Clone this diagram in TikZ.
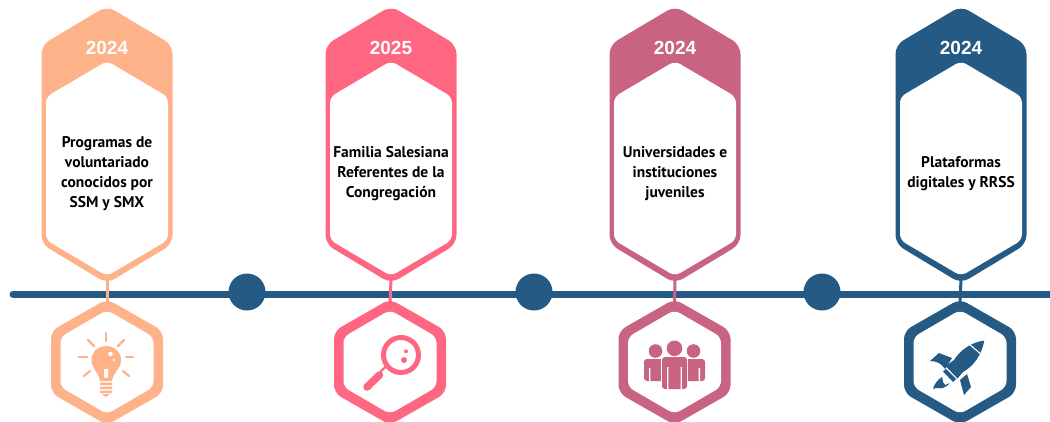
\documentclass[tikz,border=0pt]{standalone}
\usepackage{fontspec}
\setmainfont{PT Sans}
\newfontfamily\yearfont{Liberation Sans}
\definecolor{cpeach}{HTML}{FDB28A}
\definecolor{cpink}{HTML}{FF6682}
\definecolor{cmauve}{HTML}{C86482}
\definecolor{cblue}{HTML}{245A84}
\tikzset{
  yeartext/.style={text=white,font=\yearfont\fontsize{19}{20}\selectfont\bfseries,inner sep=0pt},
  cardtext/.style={text=black,align=center,inner sep=0pt,font=\fontsize{15.5}{20}\selectfont\bfseries},
  conn/.style={line width=3pt},
  ray/.style={line width=2.2pt,line cap=round},
  dotnode/.style={circle,fill=cblue,minimum size=37pt,inner sep=0pt},
}
% #1 name, #2 x of the card, #3 x of the icon, #4 colour, #5 year, #6 text, #7 icon
\newcommand{\timecard}[7]{%
  \begin{scope}[shift={(#2,0)}]
    \fill[#4,rounded corners=9pt] (0,6) -- (65.5,45) -- (65.5,244) -- (0,283.5) -- (-65.5,244) -- (-65.5,45) -- cycle;
    \fill[white,rounded corners=6pt] (0,61) -- (61,97) -- (61,240) -- (0,276) -- (-61,240) -- (-61,97) -- cycle;
    \node[yeartext] (#1y) at (0,47.5) {#5};
    \node[cardtext] (#1t) at (0,173.5) {#6};
    \coordinate (#1b) at (0,279);
  \end{scope}
  \begin{scope}[shift={(#3,362)},#4]
    \fill[rounded corners=8pt] (0,-63) -- (56,-31) -- (56,31) -- (0,63) -- (-56,31) -- (-56,-31) -- cycle;
    \fill[white,rounded corners=6pt] (0,-52) -- (46.5,-25) -- (46.5,25) -- (0,52) -- (-46.5,25) -- (-46.5,-25) -- cycle;
    \coordinate (#1h) at (0,-58);
    #7
  \end{scope}
}
\newcommand{\bulbicon}{%
  \draw[ray] (-1,-29) -- (-1,-21);
  \draw[ray] (-19,-22) -- (-13,-16);
  \draw[ray] (17,-22) -- (11,-16);
  \draw[ray] (-28,-5) -- (-20,-5);
  \draw[ray] (19,-5) -- (26,-5);
  \draw[ray] (-23,14) -- (-17,9);
  \draw[ray] (22,14) -- (16,9);
  \fill (-7,19) .. controls (-8,10) and (-15.5,7) .. (-15.5,-2)
     .. controls (-15.5,-11) and (-8,-16) .. (-1,-16)
     .. controls (6,-16) and (14,-11) .. (14,-2)
     .. controls (14,7) and (6,10) .. (5,19) -- cycle;
  \fill[white] (3.5,-8) circle (2.3) (7,-2) circle (1.3) (-3,7) rectangle (1,15.5);
  \fill (-7,20.5) rectangle (5,23) (-7,24.5) rectangle (5,27) (-7,28.5) rectangle (5,31);
  \fill (-5,32) -- (3,32) -- (-1,35) -- cycle;
}
\newcommand{\lensicon}{%
  \draw[line width=5pt] (11,-7) circle (17.5);
  \fill (14,-2) circle (3) (16,-10.7) circle (2);
  \draw[line width=2.2pt] (-10,10) -- (-4,4.5);
  \draw[line width=7.5pt,line cap=round] (-10.5,13) -- (-23,25);
}
\newcommand{\peopleicon}{%
  \fill (-19,-11) circle (6.8) (19,-11) circle (6.8);
  \fill[rounded corners=3pt] (-30.5,19) -- (-30.5,-3) -- (-7,-3) -- (-7,19) -- cycle;
  \fill[rounded corners=3pt] (30.5,19) -- (30.5,-3) -- (7,-3) -- (7,19) -- cycle;
  \fill[white] (-25.5,6) rectangle (-24.2,19) (24.2,6) rectangle (25.5,19);
  \fill[white] (-13.2,-6) rectangle (13.2,27);
  \fill (0,-13.7) circle (7.8);
  \fill[rounded corners=3pt] (-12.5,27) -- (-12.5,-5) -- (12.5,-5) -- (12.5,27) -- cycle;
  \fill[white] (-7.4,5) rectangle (-6.2,27) (6.2,5) rectangle (7.4,27);
}
\newcommand{\rocketicon}{%
  \fill (24.3,-21.5) .. controls (12,-20) and (0,-12) .. (-6,-2)
     -- (-14.5,4) -- (-2.5,16.5) -- (3,10) .. controls (14,4) and (22,-8) .. (24.3,-21.5) -- cycle;
  \draw[white,line width=1.1pt] (9,-18) -- (22,-7);
  \fill (-30,-1) -- (-21,-9) -- (-8,-4) -- (-15,7) .. controls (-18,2) and (-23,-1) .. (-30,-1) -- cycle;
  \fill (4,33) -- (0,18) -- (7,12) -- (11,25) -- cycle;
  \fill (-14,7) -- (-4,17) -- (-7,20) -- (-17,9.5) -- cycle;
  \fill (-18,15) .. controls (-23,18) and (-26,23) .. (-27,27)
     .. controls (-23,25) and (-21,27) .. (-17,26)
     .. controls (-14,25) and (-12,23) .. (-10,21)
     .. controls (-12,22) and (-13,22) .. (-15,23)
     .. controls (-17,22) and (-17,19) .. (-18,15) -- cycle;
}
\begin{document}
\begin{tikzpicture}[x=1pt,y=-1pt]
  \clip (0,0) rectangle (1050,421);
  \timecard{a}{107}{107}{cpeach}{2024}{Programas de\\voluntariado\\conocidos por\\SSM y SMX}{\bulbicon}
  \timecard{b}{391}{390}{cpink}{2025}{Familia Salesiana\\Referentes de la\\Congregación}{\lensicon}
  \timecard{c}{675}{674.5}{cmauve}{2024}{Universidades e\\instituciones\\juveniles}{\peopleicon}
  \timecard{d}{961}{960}{cblue}{2024}{Plataformas\\digitales y RRSS}{\rocketicon}
  \coordinate (ls) at (13,294);
  \coordinate (le) at (1055,294);
  \draw[cblue,line width=7pt,line cap=round] (ls) -- (le);
  \draw[conn,cpeach] (ab) -- (ah);
  \draw[conn,cpink] (bb) -- (bh);
  \draw[conn,cmauve] (cb) -- (ch);
  \draw[conn,cblue] (db) -- (dh);
  \node[dotnode] (p1) at (247,292) {};
  \node[dotnode] (p2) at (534,292) {};
  \node[dotnode] (p3) at (822,292) {};
\end{tikzpicture}
\end{document}
